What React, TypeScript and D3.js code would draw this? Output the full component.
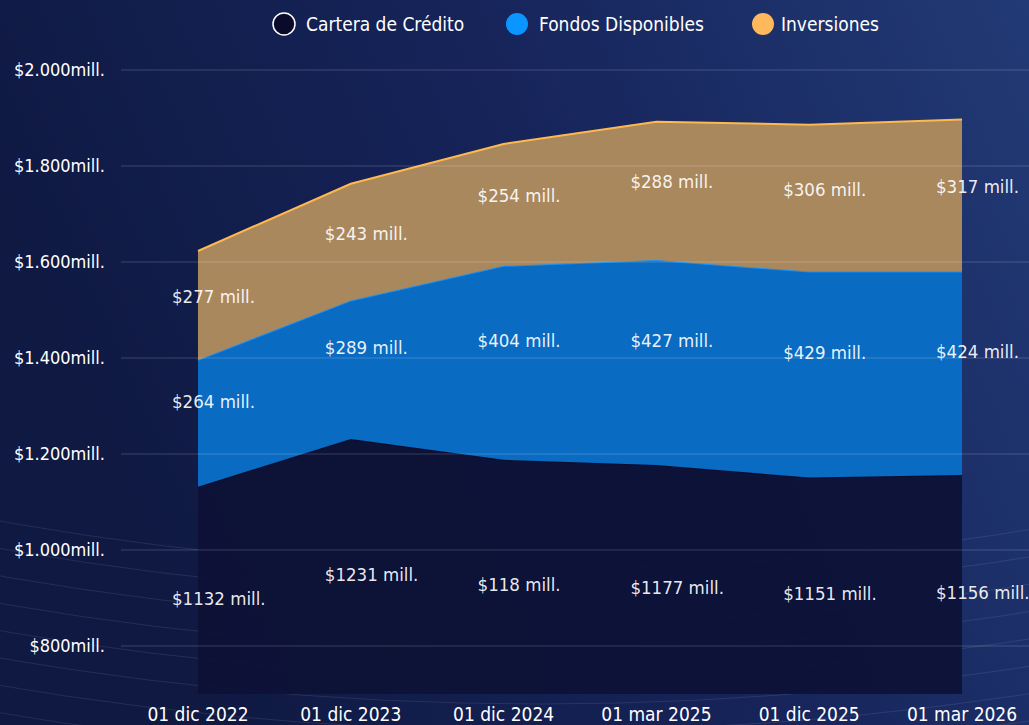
import * as React from "react";
import * as d3 from "d3";

const fechas = ["01 dic 2022", "01 dic 2023", "01 dic 2024", "01 mar 2025", "01 dic 2025", "01 mar 2026"];
const cartera = [1132, 1231, 1188, 1177, 1151, 1156];
const fondos = [264, 289, 404, 427, 429, 424];
const inversiones = [227, 243, 254, 288, 306, 317];
const carteraLabels = ["$1132 mill.", "$1231 mill.", "$118 mill.", "$1177 mill.", "$1151 mill.", "$1156 mill."];
const fondosLabels = ["$264 mill.", "$289 mill.", "$404 mill.", "$427 mill.", "$429 mill.", "$424 mill."];
const inversionesLabels = ["$277 mill.", "$243 mill.", "$254 mill.", "$288 mill.", "$306 mill.", "$317 mill."];
const yTicks = [800, 1000, 1200, 1400, 1600, 1800, 2000];

const W = 1029, H = 725;
const FONT = "'DejaVu Sans Condensed', 'Liberation Sans Narrow', sans-serif";

const series = [
  { key: "cartera", name: "Cartera de Crédito", values: cartera, labels: carteraLabels, fill: "#0d1136", stroke: "#0a0d2e", legend: "#0a0a2a", dy: 8 },
  { key: "fondos", name: "Fondos Disponibles", values: fondos, labels: fondosLabels, fill: "#0a6bc2", stroke: "#1a90f2", legend: "#0a95ff", dy: -22 },
  { key: "inversiones", name: "Inversiones", values: inversiones, labels: inversionesLabels, fill: "#aa885e", stroke: "#ffb84d", legend: "#ffb85c", dy: -9 },
];

export default function App() {
  const x = d3.scalePoint<string>().domain(fechas).range([198, 962]);
  const y = d3.scaleLinear().domain([700, 2000]).range([694, 70]);

  const rows = fechas.map((f, i) => ({ fecha: f, cartera: cartera[i], fondos: fondos[i], inversiones: inversiones[i] }));
  const stacked = d3.stack<any>().keys(series.map(s => s.key))(rows);

  const area = d3.area<any>()
    .x(d => x(d.data.fecha)!)
    .y0(d => y(Math.max(d[0], 700)))
    .y1(d => y(d[1]));
  const line = d3.line<any>().x(d => x(d.data.fecha)!).y(d => y(d[1]));

  // faint decorative arcs behind the chart
  const radii = d3.range(18).map(i => 3069 + i * 27);

  return (
    <svg width={W} height={H} style={{ position: "absolute", left: 0, top: 0, fontFamily: FONT }}>
      <defs>
        <linearGradient id="bg" x1="0" y1="0.3" x2="1" y2="0">
          <stop offset="0" stopColor="#0f1942" />
          <stop offset="0.5" stopColor="#16245a" />
          <stop offset="1" stopColor="#223a76" />
        </linearGradient>
      </defs>
      <rect width={W} height={H} fill="url(#bg)" />
      <g fill="none" stroke="#ffffff" strokeOpacity={0.09}>
        {radii.map((r, i) => (
          <circle key={i} cx={540} cy={-2500} r={r} />
        ))}
      </g>

      {stacked.map((layer, i) => (
        <g key={layer.key}>
          <path d={area(layer as any) || ""} fill={series[i].fill} fillOpacity={i === 0 ? 0.93 : 1} />
          <path d={line(layer as any) || ""} fill="none" stroke={series[i].stroke} strokeWidth={2} />
        </g>
      ))}

      {yTicks.map(t => (
        <g key={t}>
          <line x1={121} x2={W} y1={y(t)} y2={y(t)} stroke="#ffffff" strokeOpacity={0.18} strokeWidth={1} />
          <text x={105} y={y(t)} dy="0.35em" textAnchor="end" fill="#ffffff" fontSize={18}>
            {"$" + d3.format(",")(t).replace(",", ".") + "mill."}
          </text>
        </g>
      ))}

      {stacked.map((layer, i) => (
        <g key={"l" + layer.key}>
          {layer.map((d, j) => (
            <text key={j} x={x(fechas[j])! - 26} y={(y(Math.max(d[0], 700)) + y(d[1])) / 2 + series[i].dy} dy="0.35em"
              fill="#ffffff" fillOpacity={0.92} fontSize={18.5}>
              {series[i].labels[j]}
            </text>
          ))}
        </g>
      ))}

      {fechas.map(f => (
        <text key={f} x={x(f)} y={714} dy="0.35em" textAnchor="middle" fill="#ffffff" fontSize={19}>{f}</text>
      ))}

      <g>
        {[{ cx: 284, tx: 306 }, { cx: 517, tx: 539 }, { cx: 763, tx: 781 }].map((p, i) => (
          <g key={i}>
            <circle cx={p.cx} cy={24} r={11} fill={series[i].legend} stroke={i === 0 ? "#ffffff" : "none"} strokeWidth={1.5} />
            <text x={p.tx} y={24} dy="0.35em" fill="#ffffff" fontSize={19}>{series[i].name}</text>
          </g>
        ))}
      </g>
    </svg>
  );
}
